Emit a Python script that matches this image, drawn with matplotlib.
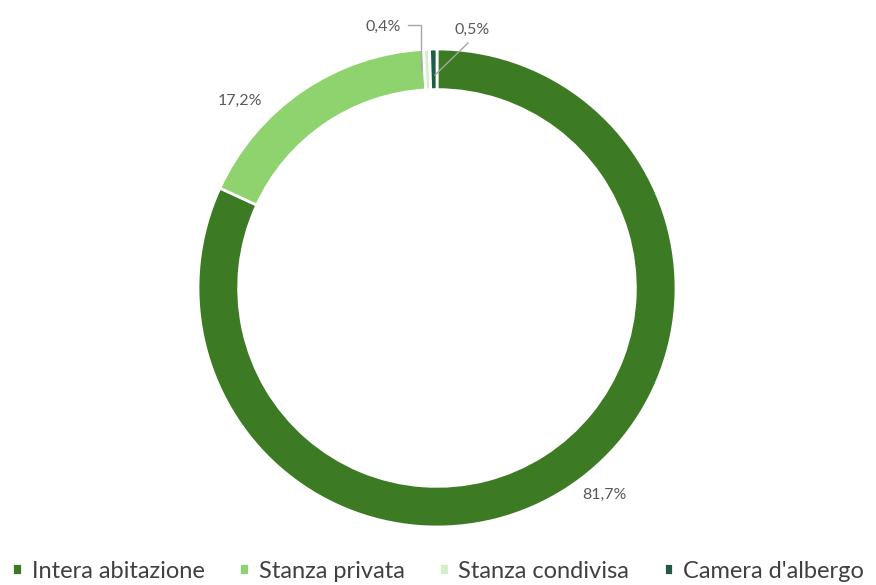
import matplotlib.pyplot as plt

plt.rcParams['font.family'] = ['Lato', 'DejaVu Sans']

# data
categories = ['Intera abitazione', 'Stanza privata', 'Stanza condivisa', "Camera d'albergo"]
values = [81.7, 17.2, 0.4, 0.5]
labels = ['81,7%', '17,2%', '0,4%', '0,5%']
colors = ['#3C7B24', '#8FD36F', '#D5EFC8', '#1F5B45']

W, H = 876, 585
cx, cy, R = 437, 288, 239  # pixel centre / radius of the ring

fig = plt.figure(figsize=(W / 100, H / 100), dpi=100)
ax = fig.add_axes([(cx - R) / W, (H - cy - R) / H, 2 * R / W, 2 * R / H])

wedges, _ = ax.pie(values, colors=colors, startangle=90, counterclock=False,
                   radius=1, wedgeprops=dict(width=0.17, edgecolor='white', linewidth=2))
ax.set_xlim(-1, 1)
ax.set_ylim(-1, 1)
ax.set_aspect('equal')
ax.axis('off')


def px(x, y):
    # pixel position -> data coords
    return (x - cx) / R, (cy - y) / R


lab_col = '#595959'
fs = 11.5
ax.text(*px(604, 495), labels[0], fontsize=fs, color=lab_col, ha='center', va='center')
ax.text(*px(240, 101), labels[1], fontsize=fs, color=lab_col, ha='center', va='center')
ax.text(*px(383, 27), labels[2], fontsize=fs, color=lab_col, ha='center', va='center')
ax.text(*px(472, 30), labels[3], fontsize=fs, color=lab_col, ha='center', va='center')

# leader lines
p = [px(408, 25), px(421, 25), px(421, 70)]
ax.plot([q[0] for q in p], [q[1] for q in p], color='#A6A6A6', lw=1, clip_on=False)
p = [px(468, 43), px(435, 75)]
ax.plot([q[0] for q in p], [q[1] for q in p], color='#A6A6A6', lw=1, clip_on=False)

fig.legend(wedges, categories, loc='center', bbox_to_anchor=(0.5, 1 - 571 / H),
           ncol=4, frameon=False, fontsize=17, handlelength=0.42, handleheight=0.42,
           handletextpad=0.42, columnspacing=1.45, labelcolor='#404040')

fig.savefig('out.png', dpi=100)
